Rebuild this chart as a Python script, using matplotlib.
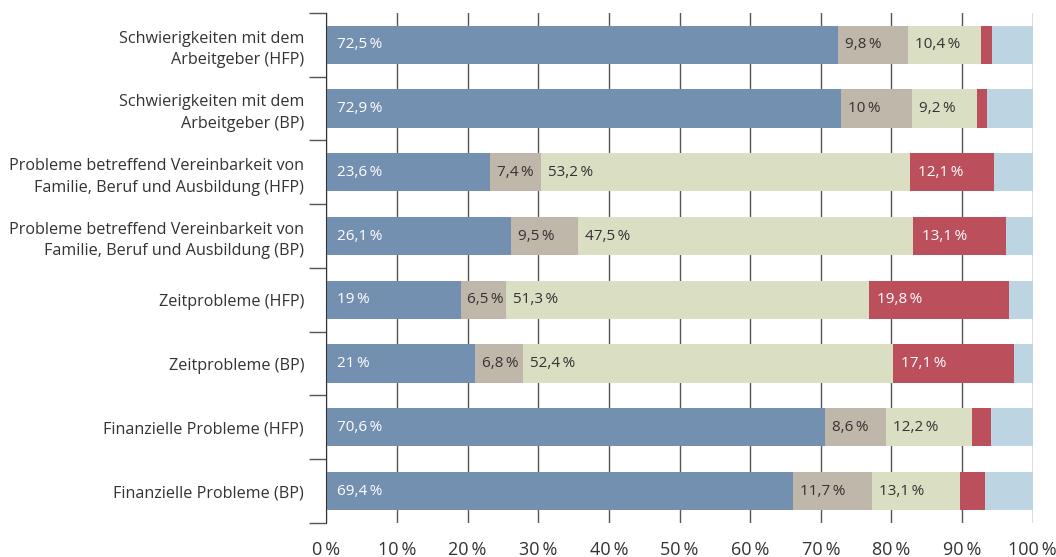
import matplotlib
matplotlib.use("Agg")
import matplotlib.pyplot as plt
import numpy as np

plt.rcParams["font.family"] = ["Open Sans", "DejaVu Sans"]

categories = [
    "Schwierigkeiten mit dem\nArbeitgeber (HFP)",
    "Schwierigkeiten mit dem\nArbeitgeber (BP)",
    "Probleme betreffend Vereinbarkeit von\nFamilie, Beruf und Ausbildung (HFP)",
    "Probleme betreffend Vereinbarkeit von\nFamilie, Beruf und Ausbildung (BP)",
    "Zeitprobleme (HFP)",
    "Zeitprobleme (BP)",
    "Finanzielle Probleme (HFP)",
    "Finanzielle Probleme (BP)",
]

# five answer groups per row (values in %, last two partly estimated from bar lengths)
seg_blue = [72.5, 72.9, 23.6, 26.1, 19.0, 21.0, 70.6, 69.4]
seg_taupe = [9.8, 10.0, 7.4, 9.5, 6.5, 6.8, 8.6, 11.7]
seg_beige = [10.4, 9.2, 53.2, 47.5, 51.3, 52.4, 12.2, 13.1]
seg_red = [1.5, 1.4, 12.1, 13.1, 19.8, 17.1, 2.7, 3.7]
seg_lightblue = [5.8, 6.5, 5.6, 3.8, 3.4, 2.7, 5.9, 7.1]

x_ticks = [0, 10, 20, 30, 40, 50, 60, 70, 80, 90, 100]

series = [seg_blue, seg_taupe, seg_beige, seg_red, seg_lightblue]
colors = ["#7490b1", "#c0b7ab", "#dadec3", "#bc4f5c", "#bdd5e2"]
text_colors = ["white", "#333333", "#333333", "white", None]
text_offsets = [8, 5, 5, 6, 0]


def fmt(v):
    return f"{v:g}".replace(".", ",") + "\u2009%"


data = np.array(series, dtype=float)
totals = data.sum(axis=0)
shares = data / totals * 100

fig = plt.figure(figsize=(10.56, 5.57), dpi=100)
ax = fig.add_axes([0.309, 0.061, 0.669, 0.916])

y = np.arange(len(categories))
left = np.zeros(len(categories))
for i, (share, col) in enumerate(zip(shares, colors)):
    ax.barh(y, share, left=left, height=0.6, color=col, zorder=2)
    if text_colors[i] is not None:
        for j in range(len(categories)):
            if data[i, j] >= 5:
                ax.annotate(fmt(data[i, j]), (left[j], y[j]), xytext=(text_offsets[i], 0),
                            textcoords="offset points", va="center", ha="left",
                            fontsize=11, color=text_colors[i], zorder=3)
    left += share

ax.set_xlim(0, 100)
ax.set_ylim(len(categories) - 0.5, -0.5)

for t in x_ticks:
    ax.axvline(t, color="#555555", lw=1, zorder=1)

ax.set_xticks(x_ticks)
ax.set_xticklabels([f"{t}\u2009%" for t in x_ticks], fontsize=13, color="#333333")
ax.tick_params(axis="x", length=0, pad=13)

ax.set_yticks(np.arange(len(categories) + 1) - 0.5)
ax.set_yticklabels([])
ax.tick_params(axis="y", which="major", length=12, width=1, color="#555555")
ax.set_yticks(y, minor=True)
ax.set_yticklabels(categories, minor=True, fontsize=11.6, color="#333333", linespacing=1.45)
ax.tick_params(axis="y", which="minor", length=0, pad=16)

for s in ["top", "right", "bottom"]:
    ax.spines[s].set_visible(False)
ax.spines["left"].set_color("#333333")
ax.spines["left"].set_zorder(4)

fig.savefig("out.png", dpi=100)
